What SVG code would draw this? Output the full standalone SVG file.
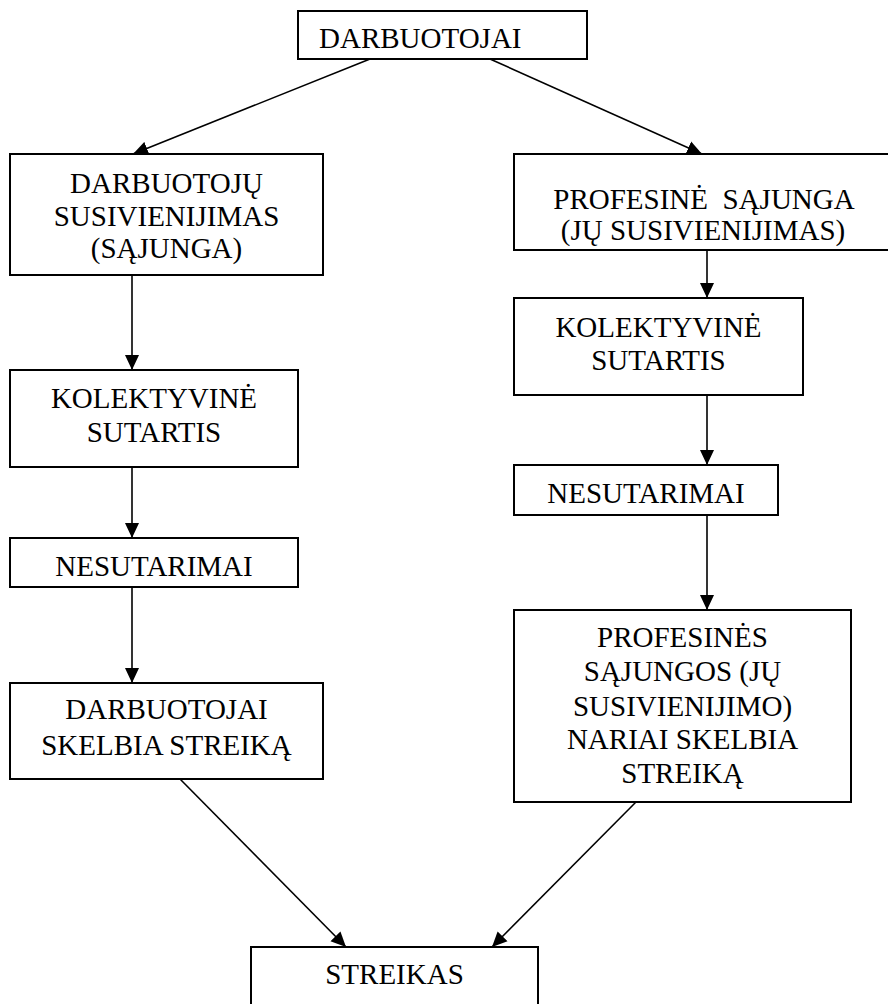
<svg xmlns="http://www.w3.org/2000/svg" width="888" height="1004" viewBox="0 0 888 1004">
<style>
.box{fill:#fff;stroke:#000;stroke-width:2}
.t{font-family:"Liberation Serif","Times New Roman",serif;font-size:29px;fill:#000;text-anchor:middle;white-space:pre}
.tl{text-anchor:start}
.c{stroke:#000;stroke-width:1.6;fill:none;marker-end:url(#ah)}
</style>
<defs>
<marker id="ah" markerUnits="userSpaceOnUse" viewBox="0 0 15 15" refX="15" refY="7.5" markerWidth="15" markerHeight="15" orient="auto">
<path d="M0,0.5 L15,7.5 L0,14.5 z" fill="#000"/>
</marker>
</defs>
<rect width="888" height="1004" fill="#fff"/>
<g id="connectors">
<line class="c" x1="370" y1="59" x2="133" y2="154"/>
<line class="c" x1="490" y1="59" x2="702" y2="154"/>
<line class="c" x1="132" y1="275" x2="132" y2="370"/>
<line class="c" x1="132" y1="467" x2="132" y2="538"/>
<line class="c" x1="132" y1="587" x2="132" y2="683"/>
<line class="c" x1="707" y1="250" x2="707" y2="298"/>
<line class="c" x1="707" y1="395" x2="707" y2="465"/>
<line class="c" x1="707" y1="515" x2="707" y2="610"/>
<line class="c" x1="180" y1="779" x2="346" y2="947"/>
<line class="c" x1="636" y1="802" x2="492" y2="947"/>
</g>
<g id="n_darbuotojai">
<rect class="box" x="298" y="11" width="289" height="48"/>
<text class="t tl" x="319" y="48">DARBUOTOJAI</text>
</g>
<g id="n_susivienijimas">
<rect class="box" x="10" y="154" width="313" height="121"/>
<text class="t" x="166.5" y="193">DARBUOTOJŲ</text>
<text class="t" x="166.5" y="226">SUSIVIENIJIMAS</text>
<text class="t" x="166.5" y="258">(SĄJUNGA)</text>
</g>
<g id="n_kolektyvine_l">
<rect class="box" x="10" y="370" width="288" height="97"/>
<text class="t" x="154" y="408">KOLEKTYVINĖ</text>
<text class="t" x="154" y="442">SUTARTIS</text>
</g>
<g id="n_nesutarimai_l">
<rect class="box" x="10" y="538" width="288" height="49"/>
<text class="t" x="154" y="576">NESUTARIMAI</text>
</g>
<g id="n_skelbia_l">
<rect class="box" x="10" y="683" width="313" height="96"/>
<text class="t" x="166.5" y="719">DARBUOTOJAI</text>
<text class="t" x="166.5" y="755">SKELBIA STREIKĄ</text>
</g>
<g id="n_profesine">
<rect class="box" x="514" y="154" width="378" height="96"/>
<text class="t" x="704" y="209">PROFESINĖ  SĄJUNGA</text>
<text class="t" x="703" y="240">(JŲ SUSIVIENIJIMAS)</text>
</g>
<g id="n_kolektyvine_r">
<rect class="box" x="514" y="298" width="289" height="97"/>
<text class="t" x="658.5" y="337">KOLEKTYVINĖ</text>
<text class="t" x="658.5" y="370">SUTARTIS</text>
</g>
<g id="n_nesutarimai_r">
<rect class="box" x="514" y="465" width="264" height="50"/>
<text class="t" x="646" y="503">NESUTARIMAI</text>
</g>
<g id="n_skelbia_r">
<rect class="box" x="514" y="610" width="337" height="192"/>
<text class="t" x="682.5" y="647">PROFESINĖS</text>
<text class="t" x="682.5" y="681">SĄJUNGOS (JŲ</text>
<text class="t" x="682.5" y="716">SUSIVIENIJIMO)</text>
<text class="t" x="682.5" y="749">NARIAI SKELBIA</text>
<text class="t" x="682.5" y="783">STREIKĄ</text>
</g>
<g id="n_streikas">
<rect class="box" x="251" y="947" width="287" height="70"/>
<text class="t" x="394.5" y="984">STREIKAS</text>
</g>
</svg>
